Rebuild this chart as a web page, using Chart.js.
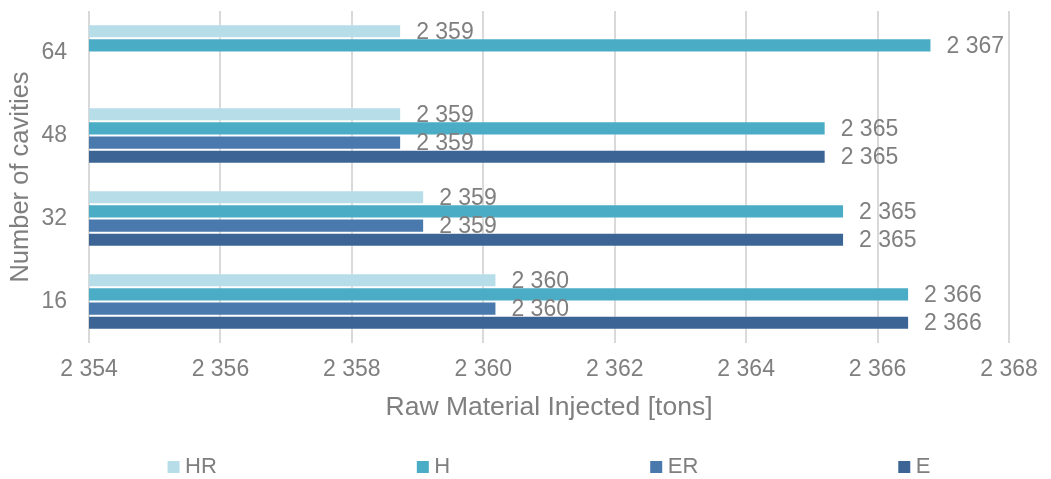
<!DOCTYPE html>
<html>
<head>
<meta charset="utf-8">
<script src="https://cdn.jsdelivr.net/npm/chart.js@4.4.1/dist/chart.umd.min.js"></script>
<style>
  html, body { margin: 0; padding: 0; background: #ffffff; }
  #wrap { width: 1051px; height: 479px; position: relative; }
</style>
</head>
<body>
<div id="wrap"><canvas id="chart"></canvas></div>
<script>
// Number of cavities, listed top to bottom
const categories = ['64', '48', '32', '16'];
const seriesNames = ['HR', 'H', 'ER', 'E'];
const seriesColors = ['#b7dde8', '#4bacc6', '#4a79ae', '#3c6494'];

// Raw material injected [tons] per series
const hrValues = [2358.75, 2358.75, 2359.1, 2360.2];
const hValues  = [2366.82, 2365.21, 2365.49, 2366.48];
const erValues = [null, 2358.75, 2359.1, 2360.2];
const eValues  = [null, 2365.21, 2365.49, 2366.48];

const xTickValues = [2354, 2356, 2358, 2360, 2362, 2364, 2366, 2368];

const FONT = '"Liberation Sans", Arial, sans-serif';
const TEXT = '#7f7f7f';

function fmt(v) {
  return String(Math.round(v)).replace(/\B(?=(\d{3})+(?!\d))/g, ' ');
}

const seriesValues = [hrValues, hValues, erValues, eValues];

// Value labels at the end of each bar
const valueLabels = {
  id: 'valueLabels',
  afterDatasetsDraw(chart) {
    const ctx = chart.ctx;
    ctx.save();
    ctx.font = '23px ' + FONT;
    ctx.fillStyle = TEXT;
    ctx.textAlign = 'left';
    ctx.textBaseline = 'middle';
    chart.data.datasets.forEach((ds, i) => {
      const meta = chart.getDatasetMeta(i);
      meta.data.forEach((bar, j) => {
        const v = ds.data[j];
        if (v === null || v === undefined) return;
        ctx.fillText(fmt(v), bar.x + 15, bar.y + 1);
      });
    });
    ctx.restore();
  }
};

// Legend row below the axis, entries evenly spaced and centred on the plot
const bottomLegend = {
  id: 'bottomLegend',
  afterDraw(chart) {
    const ctx = chart.ctx;
    const area = chart.chartArea;
    const box = 12, gapText = 5.5, gapItem = 200, cy = 467;
    ctx.save();
    ctx.font = '22px ' + FONT;
    ctx.textBaseline = 'middle';
    ctx.textAlign = 'left';
    const items = chart.data.datasets.map(ds => ({
      label: ds.label,
      color: ds.backgroundColor,
      w: box + gapText + ctx.measureText(ds.label).width
    }));
    const total = items.reduce((s, it) => s + it.w, 0) + gapItem * (items.length - 1);
    let x = (area.left + area.right) / 2 - total / 2;
    items.forEach(it => {
      ctx.fillStyle = it.color;
      ctx.fillRect(x, cy - box / 2, box, box);
      ctx.fillStyle = TEXT;
      ctx.fillText(it.label, x + box + gapText, cy);
      x += it.w + gapItem;
    });
    ctx.restore();
  }
};

new Chart(document.getElementById('chart'), {
  type: 'bar',
  data: {
    labels: categories,
    datasets: seriesNames.map((name, i) => ({
      label: name,
      data: seriesValues[i],
      backgroundColor: seriesColors[i],
      borderColor: 'rgba(255,255,255,0.3)',
      borderWidth: 1,
      borderSkipped: false,
      barPercentage: 1,
      categoryPercentage: 0.683
    }))
  },
  options: {
    indexAxis: 'y',
    responsive: true,
    maintainAspectRatio: false,
    animation: false,
    layout: { padding: { left: 0, right: 42, top: 11, bottom: 49 } },
    plugins: {
      legend: { display: false },
      tooltip: { enabled: false }
    },
    scales: {
      x: {
        type: 'linear',
        position: 'bottom',
        min: 2354,
        max: 2368,
        afterBuildTicks(axis) {
          axis.ticks = xTickValues.map(v => ({ value: v }));
        },
        afterFit(scale) { scale.height = 87; },
        ticks: {
          callback: v => fmt(v),
          color: TEXT,
          font: { family: FONT, size: 23 },
          padding: 13,
          maxRotation: 0,
          autoSkip: false
        },
        grid: { color: '#d9d9d9', lineWidth: 2, drawTicks: false },
        border: { display: false },
        title: {
          display: true,
          text: 'Raw Material Injected [tons]',
          color: TEXT,
          font: { family: FONT, size: 26.5 },
          padding: { top: 0, bottom: 6 }
        }
      },
      y: {
        type: 'category',
        afterFit(scale) {
          scale.width = 89;
          scale.paddingTop = 0;
          scale.paddingBottom = 0;
        },
        ticks: {
          color: TEXT,
          font: { family: FONT, size: 23 },
          padding: 22
        },
        grid: { display: false, drawTicks: false },
        border: { display: false },
        title: {
          display: true,
          text: 'Number of cavities',
          color: TEXT,
          font: { family: FONT, size: 25.5 },
          padding: { top: 6, bottom: 0 }
        }
      }
    }
  },
  plugins: [valueLabels, bottomLegend]
});
</script>
</body>
</html>
